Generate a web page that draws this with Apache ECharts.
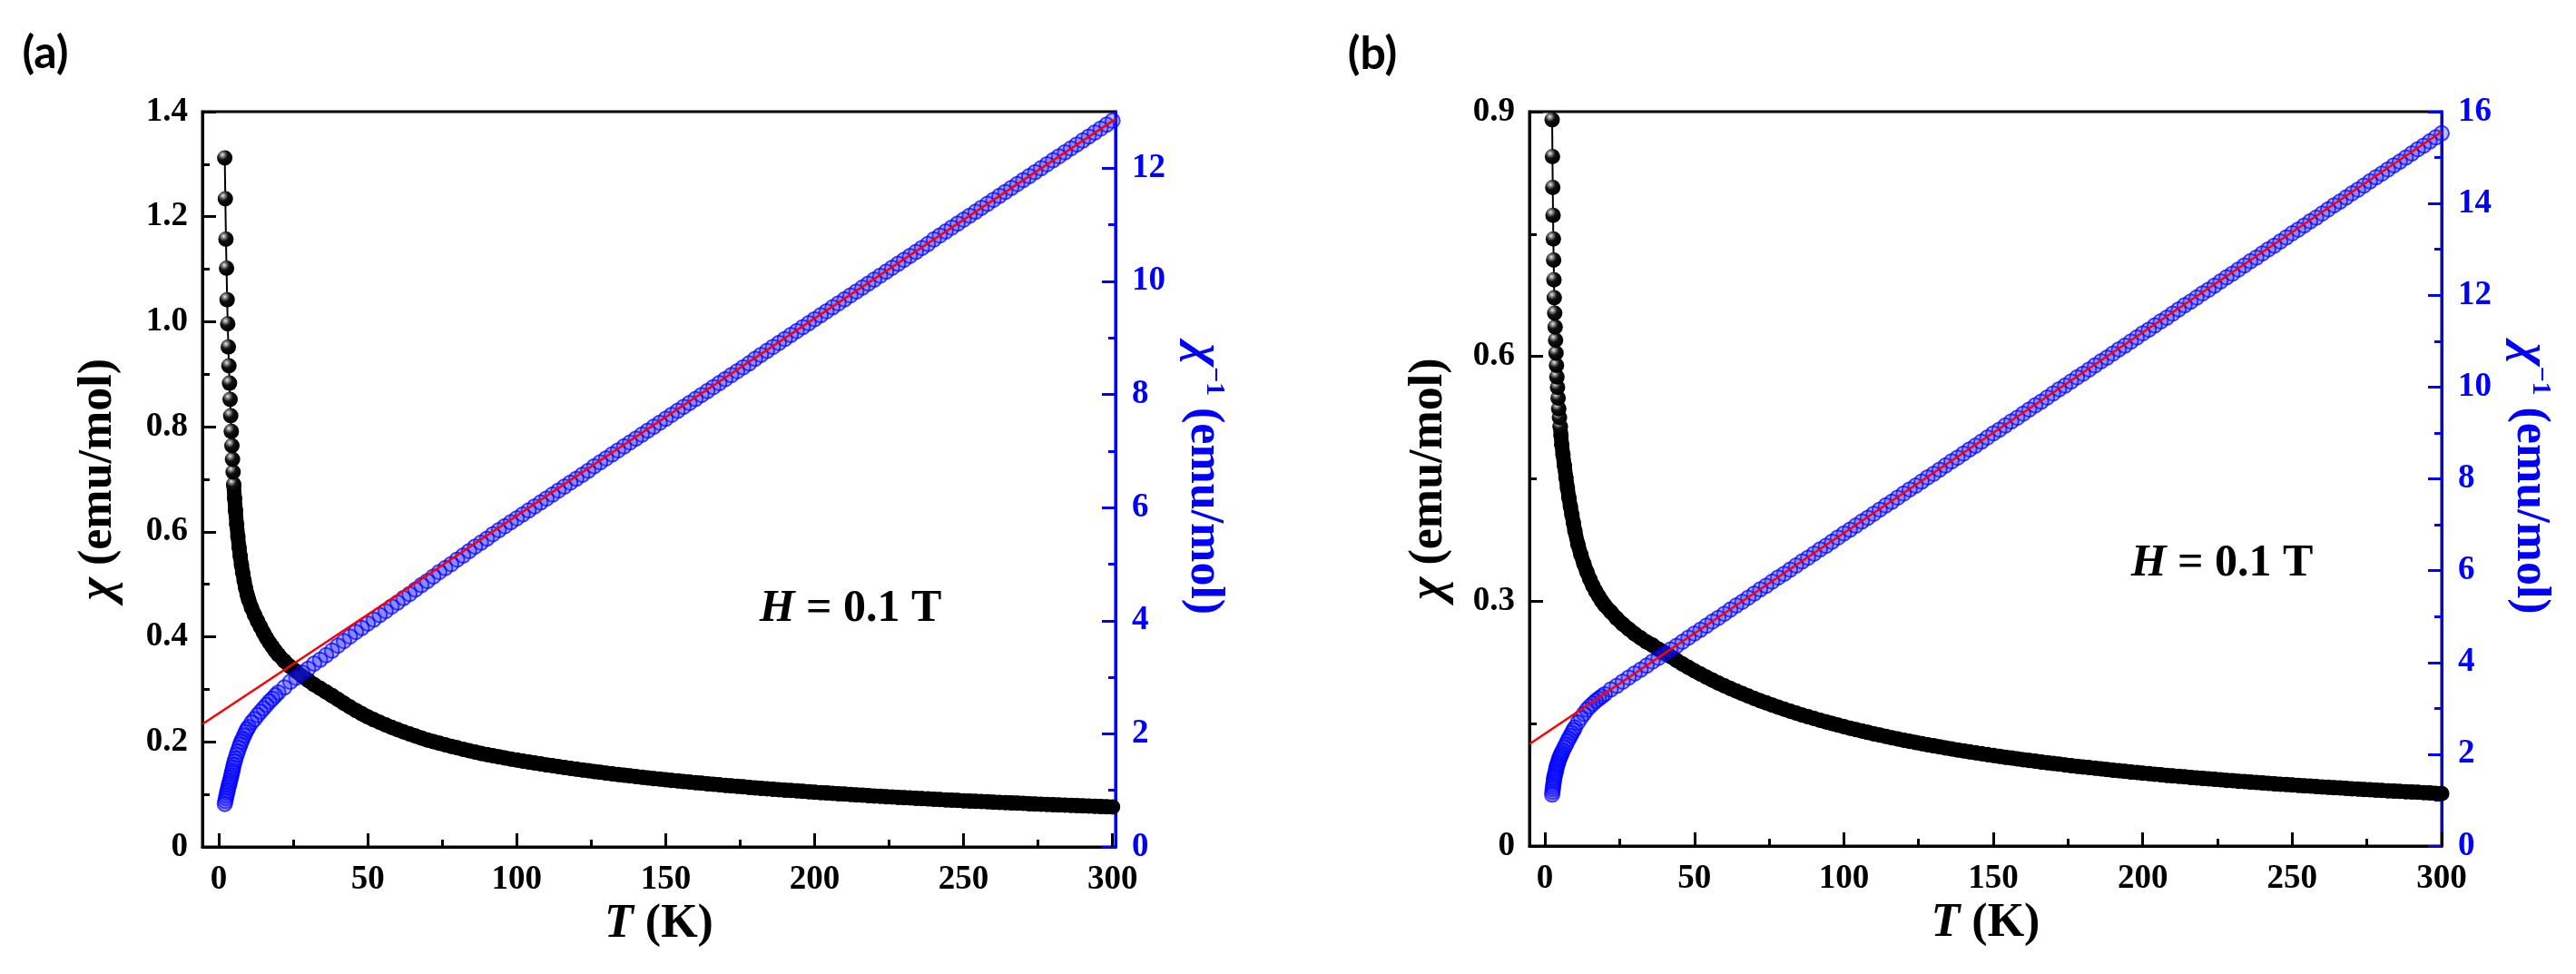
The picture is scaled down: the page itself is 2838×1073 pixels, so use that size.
<!DOCTYPE html>
<html>
<head>
<meta charset="utf-8">
<script src="https://cdn.jsdelivr.net/npm/echarts@6/dist/echarts.min.js"></script>
<style>
html, body { margin: 0; padding: 0; background: #fff; }
#main { width: 2838px; height: 1073px; }
</style>
</head>
<body>
<div id="main"></div>
<script>
// temperature points from 40 K up, same grid in both panels
var tempsHigh = [40,42,44,46,48,50,52,54,56,58,
    60,62,64,66,68,70,72,74,76,78,
    80,82,84,86,88,90,92,94,96,98,
    100,102,104,106,108,110,112,114,116,118,
    120,122,124,126,128,130,132,134,136,138,
    140,142,144,146,148,150,152,154,156,158,
    160,162,164,166,168,170,172,174,176,178,
    180,182,184,186,188,190,192,194,196,198,
    200,202,204,206,208,210,212,214,216,218,
    220,222,224,226,228,230,232,234,236,238,
    240,242,244,246,248,250,252,254,256,258,
    260,262,264,266,268,270,272,274,276,278,
    280,282,284,286,288,290,292,294,296,298,
    300];

// panel (a)
var tempsA = [2.0,2.2,2.4,2.6,2.8,3.0,3.2,3.4,3.6,3.8,
    4.0,4.2,4.4,4.6,4.8,5.0,5.3,5.6,6.0,6.4,
    6.8,7.2,7.6,8.0,8.5,9.0,9.5,10,11,12,
    13,14,15,16,17,18,19,20,22,24,
    26,28,30,32,34,36,38].concat(tempsHigh);
var chiA = [1.312,1.234,1.157,1.102,1.042,0.996,0.952,0.916,0.883,0.852,
    0.821,0.791,0.764,0.738,0.714,0.690,0.664,0.641,0.614,0.591,
    0.571,0.553,0.537,0.523,0.507,0.493,0.481,0.471,0.455,0.442,
    0.430,0.419,0.408,0.398,0.389,0.381,0.373,0.366,0.354,0.343,
    0.334,0.325,0.317,0.309,0.302,0.295,0.288,
    0.2809,0.2735,0.2665,0.2599,0.2535,0.2475,0.2422,0.2372,0.2323,0.2277,
    0.2232,0.2190,0.2150,0.2111,0.2073,0.2037,0.2005,0.1974,0.1944,0.1915,
    0.1887,0.1859,0.1832,0.1805,0.1779,0.1757,0.1736,0.1714,0.1694,0.1674,
    0.1654,0.1635,0.1616,0.1598,0.1580,0.1562,0.1545,0.1528,0.1512,0.1496,
    0.1480,0.1465,0.1450,0.1435,0.1420,0.1406,0.1392,0.1379,0.1365,0.1352,
    0.1339,0.1327,0.1314,0.1302,0.1290,0.1279,0.1267,0.1256,0.1245,0.1234,
    0.1223,0.1213,0.1202,0.1192,0.1182,0.1172,0.1163,0.1153,0.1144,0.1134,
    0.1125,0.1116,0.1108,0.1099,0.1091,0.1082,0.1074,0.1066,0.1058,0.1050,
    0.1042,0.1034,0.1027,0.1019,0.1012,0.1005,0.0998,0.0991,0.0984,0.0977,
    0.0970,0.0964,0.0957,0.0951,0.0944,0.0938,0.0932,0.0926,0.0920,0.0914,
    0.0908,0.0902,0.0896,0.0891,0.0885,0.0879,0.0874,0.0869,0.0863,0.0858,
    0.0853,0.0848,0.0843,0.0838,0.0833,0.0828,0.0823,0.0818,0.0813,0.0809,
    0.0804,0.0800,0.0795,0.0791,0.0786,0.0782,0.0777,0.0773,0.0769,0.0765,
    0.0761];
var chiInvA = [0.76,0.81,0.86,0.91,0.96,1.00,1.05,1.09,1.13,1.17,
    1.22,1.26,1.31,1.35,1.40,1.45,1.51,1.56,1.63,1.69,
    1.75,1.81,1.86,1.91,1.97,2.03,2.08,2.12,2.20,2.26,
    2.33,2.39,2.45,2.51,2.57,2.62,2.68,2.73,2.82,2.92,
    2.99,3.08,3.15,3.24,3.31,3.39,3.47,
    3.56,3.64,3.72,3.80,3.87,3.95,4.02,4.10,4.17,4.25,
    4.32,4.40,4.47,4.55,4.63,4.70,4.78,4.86,4.93,5.00,
    5.08,5.15,5.23,5.31,5.38,5.45,5.53,5.60,5.67,5.74,
    5.81,5.88,5.95,6.02,6.09,6.16,6.23,6.30,6.37,6.44,
    6.51,6.58,6.65,6.73,6.80,6.87,6.94,7.01,7.08,7.15,
    7.22,7.29,7.36,7.43,7.50,7.57,7.64,7.71,7.78,7.85,
    7.92,7.99,8.06,8.13,8.20,8.27,8.34,8.41,8.48,8.55,
    8.63,8.70,8.77,8.84,8.91,8.98,9.05,9.12,9.19,9.26,
    9.33,9.40,9.47,9.54,9.61,9.68,9.75,9.82,9.89,9.96,
    10.03,10.10,10.17,10.24,10.31,10.38,10.45,10.52,10.59,10.66,
    10.74,10.81,10.88,10.95,11.02,11.09,11.16,11.23,11.30,11.37,
    11.44,11.51,11.58,11.65,11.72,11.79,11.86,11.93,12.00,12.07,
    12.14,12.21,12.28,12.35,12.42,12.49,12.56,12.63,12.70,12.77,
    12.84];
// Curie-Weiss fit, end points [T, 1/chi]
var fitA = [[-5.5, 2.17], [301, 12.87]];

// panel (b)
var tempsB = [2.4,2.5,2.6,2.7,2.8,2.9,3.0,3.1,3.25,3.4,
    3.55,3.7,3.85,4.0,4.2,4.4,4.6,4.85,5.1,5.35,
    5.6,6.0,6.5,7.0,7.5,8.0,8.5,9.0,9.5,10,
    11,12,13,14,15,16,17,18,19,20,
    22,24,26,28,30,32,34,36,38].concat(tempsHigh);
var chiB = [0.890,0.845,0.807,0.773,0.744,0.718,0.694,0.672,0.653,0.636,
    0.620,0.604,0.589,0.575,0.562,0.549,0.536,0.525,0.514,0.503,
    0.492,0.480,0.466,0.452,0.439,0.427,0.416,0.406,0.396,0.386,
    0.370,0.357,0.346,0.336,0.327,0.319,0.312,0.306,0.300,0.295,
    0.287,0.279,0.272,0.266,0.260,0.255,0.250,0.246,0.241,
    0.2370,0.2322,0.2276,0.2231,0.2189,0.2148,0.2108,0.2070,0.2033,0.1998,
    0.1964,0.1931,0.1899,0.1868,0.1838,0.1809,0.1781,0.1754,0.1727,0.1702,
    0.1677,0.1653,0.1629,0.1606,0.1584,0.1563,0.1542,0.1521,0.1501,0.1482,
    0.1463,0.1444,0.1427,0.1409,0.1392,0.1375,0.1359,0.1343,0.1327,0.1312,
    0.1297,0.1283,0.1269,0.1255,0.1241,0.1228,0.1215,0.1202,0.1190,0.1177,
    0.1166,0.1154,0.1142,0.1131,0.1120,0.1109,0.1099,0.1088,0.1078,0.1068,
    0.1058,0.1048,0.1039,0.1029,0.1020,0.1011,0.1003,0.0994,0.0985,0.0977,
    0.0969,0.0961,0.0953,0.0945,0.0937,0.0929,0.0922,0.0915,0.0907,0.0900,
    0.0893,0.0886,0.0880,0.0873,0.0866,0.0860,0.0853,0.0847,0.0841,0.0835,
    0.0829,0.0823,0.0817,0.0811,0.0805,0.0800,0.0794,0.0789,0.0783,0.0778,
    0.0773,0.0768,0.0763,0.0757,0.0753,0.0748,0.0743,0.0738,0.0733,0.0729,
    0.0724,0.0719,0.0715,0.0711,0.0706,0.0702,0.0698,0.0693,0.0689,0.0685,
    0.0681,0.0677,0.0673,0.0669,0.0665,0.0661,0.0658,0.0654,0.0650,0.0646,
    0.0643];
var chiInvB = [1.12,1.18,1.24,1.29,1.34,1.39,1.44,1.49,1.53,1.57,
    1.61,1.65,1.70,1.74,1.78,1.82,1.87,1.91,1.95,1.99,
    2.03,2.08,2.15,2.21,2.28,2.34,2.40,2.46,2.52,2.58,
    2.69,2.79,2.88,2.97,3.04,3.10,3.16,3.21,3.26,3.31,
    3.41,3.49,3.58,3.67,3.76,3.84,3.93,4.02,4.10,
    4.19,4.28,4.36,4.45,4.54,4.63,4.71,4.80,4.89,4.97,
    5.06,5.15,5.24,5.32,5.41,5.50,5.59,5.67,5.76,5.85,
    5.93,6.02,6.11,6.20,6.28,6.37,6.46,6.54,6.63,6.72,
    6.81,6.89,6.98,7.07,7.15,7.24,7.33,7.42,7.50,7.59,
    7.68,7.77,7.85,7.94,8.03,8.11,8.20,8.29,8.38,8.46,
    8.55,8.64,8.72,8.81,8.90,8.99,9.07,9.16,9.25,9.33,
    9.42,9.51,9.60,9.68,9.77,9.86,9.95,10.03,10.12,10.21,
    10.29,10.38,10.47,10.56,10.64,10.73,10.82,10.90,10.99,11.08,
    11.17,11.25,11.34,11.43,11.51,11.60,11.69,11.78,11.86,11.95,
    12.04,12.12,12.21,12.30,12.39,12.47,12.56,12.65,12.74,12.82,
    12.91,13.00,13.08,13.17,13.26,13.35,13.43,13.52,13.61,13.69,
    13.78,13.87,13.96,14.04,14.13,14.22,14.30,14.39,14.48,14.57,
    14.65,14.74,14.83,14.91,15.00,15.09,15.18,15.26,15.35,15.44,
    15.53];
var fitB = [[-5.2, 2.22], [300, 15.56]];

// ticks
var tTicks = [0, 50, 100, 150, 200, 250, 300];
var tMinor = [25, 75, 125, 175, 225, 275];
var chiTicksA = [0, 0.2, 0.4, 0.6, 0.8, 1.0, 1.2, 1.4];
var chiMinorA = [0.1, 0.3, 0.5, 0.7, 0.9, 1.1, 1.3];
var invTicksA = [0, 2, 4, 6, 8, 10, 12];
var invMinorA = [1, 3, 5, 7, 9, 11];
var chiTicksB = [0, 0.3, 0.6, 0.9];
var chiMinorB = [0.15, 0.45, 0.75];
var invTicksB = [0, 2, 4, 6, 8, 10, 12, 14, 16];
var invMinorB = [1, 3, 5, 7, 9, 11, 13, 15];

var serif = "'Liberation Serif', 'Times New Roman', serif";
var BLUE = '#0000ff';

// shaded ball for the well separated low-T points
var ball = new echarts.graphic.RadialGradient(0.35, 0.3, 0.65, [
    { offset: 0, color: '#f0f0f0' },
    { offset: 0.2, color: '#8a8a8a' },
    { offset: 0.5, color: '#111' },
    { offset: 1, color: '#000' }
]);

function pts(t, v, from, to) {
    var out = [];
    var n = Math.min(t.length, v.length);
    for (var i = 0; i < n; i++) {
        if (t[i] >= from && t[i] <= to) out.push([t[i], v[i]]);
    }
    // draw from high T to low T so the low-T points sit on top
    return out.reverse();
}

function lab(color, size) {
    return { fontFamily: serif, fontWeight: 'bold', fontSize: size, color: color };
}

function chiFmt(v) {
    return v === 0 ? '0' : v.toFixed(1);
}

function mainX(grid, min, max) {
    return {
        type: 'value', gridIndex: grid, min: min, max: max, position: 'bottom',
        axisLine: { show: true, onZero: false, lineStyle: { color: '#000', width: 3 } },
        axisTick: { show: true, inside: true, length: 15, customValues: tTicks, lineStyle: { color: '#000', width: 3 } },
        axisLabel: Object.assign({ show: true, margin: 18, customValues: tTicks }, lab('#000', 37)),
        splitLine: { show: false },
        name: '{i|T}{n| (K)}', nameLocation: 'middle', nameGap: 60,
        nameTextStyle: {
            fontFamily: serif, fontWeight: 'bold', fontSize: 52, color: '#000',
            rich: {
                i: { fontFamily: serif, fontWeight: 'bold', fontStyle: 'italic', fontSize: 52, color: '#000' },
                n: { fontFamily: serif, fontWeight: 'bold', fontSize: 52, color: '#000' }
            }
        }
    };
}

function minorX(grid, min, max) {
    return {
        type: 'value', gridIndex: grid, min: min, max: max, position: 'bottom',
        axisLine: { show: false, onZero: false },
        axisTick: { show: true, inside: true, length: 8, customValues: tMinor, lineStyle: { color: '#000', width: 3 } },
        axisLabel: { show: false },
        splitLine: { show: false }
    };
}

function leftY(grid, max, ticks, nameGap) {
    return {
        type: 'value', gridIndex: grid, min: 0, max: max, position: 'left',
        axisLine: { show: true, onZero: false, lineStyle: { color: '#000', width: 3 } },
        axisTick: { show: true, inside: true, length: 15, customValues: ticks, lineStyle: { color: '#000', width: 3 } },
        axisLabel: Object.assign({ show: true, margin: 16, customValues: ticks, formatter: chiFmt }, lab('#000', 37)),
        splitLine: { show: false },
        name: '{c|χ}{n| (emu/mol)}', nameLocation: 'middle', nameGap: nameGap,
        nameTextStyle: {
            fontFamily: serif, fontWeight: 'bold', fontSize: 52, color: '#000',
            rich: {
                c: { fontFamily: serif, fontWeight: 'bold', fontStyle: 'italic', fontSize: 54, color: '#000' },
                n: { fontFamily: serif, fontWeight: 'bold', fontSize: 52, color: '#000' }
            }
        }
    };
}

function rightY(grid, max, ticks) {
    return {
        type: 'value', gridIndex: grid, min: 0, max: max, position: 'right',
        axisLine: { show: true, onZero: false, lineStyle: { color: BLUE, width: 3 } },
        axisTick: { show: true, inside: true, length: 15, customValues: ticks, lineStyle: { color: BLUE, width: 3 } },
        axisLabel: Object.assign({ show: true, margin: 18, customValues: ticks }, lab(BLUE, 37)),
        splitLine: { show: false },
        name: '{c|χ}{s|−1}{n| (emu/mol)}', nameLocation: 'middle', nameGap: 70, nameRotate: -90,
        nameTextStyle: {
            fontFamily: serif, fontWeight: 'bold', fontSize: 52, color: BLUE,
            rich: {
                c: { fontFamily: serif, fontWeight: 'bold', fontStyle: 'italic', fontSize: 54, color: BLUE },
                s: { fontFamily: serif, fontWeight: 'bold', fontSize: 30, color: BLUE, verticalAlign: 'top' },
                n: { fontFamily: serif, fontWeight: 'bold', fontSize: 52, color: BLUE }
            }
        }
    };
}

function minorY(grid, max, ticks, pos, color) {
    return {
        type: 'value', gridIndex: grid, min: 0, max: max, position: pos,
        axisLine: { show: false, onZero: false },
        axisTick: { show: true, inside: true, length: 8, customValues: ticks, lineStyle: { color: color, width: 3 } },
        axisLabel: { show: false },
        splitLine: { show: false }
    };
}

// sparse low-T part: shaded balls joined by a thin line
function blackSparse(xi, yi, data) {
    return {
        type: 'line', xAxisIndex: xi, yAxisIndex: yi, data: data,
        symbol: 'circle', symbolSize: 17, showAllSymbol: true,
        itemStyle: { color: ball, borderWidth: 0 },
        lineStyle: { color: '#000', width: 2 },
        z: 3, animation: false, silent: true
    };
}

// dense part: the balls merge into one solid band
function blackDense(xi, yi, data) {
    return {
        type: 'line', xAxisIndex: xi, yAxisIndex: yi, data: data,
        symbol: 'circle', symbolSize: 17, showAllSymbol: true,
        itemStyle: { color: '#000', borderWidth: 0 },
        lineStyle: { color: '#000', width: 16, cap: 'round', join: 'round' },
        z: 2, animation: false, silent: true
    };
}

function blueSeries(xi, yi, data) {
    return {
        type: 'scatter', xAxisIndex: xi, yAxisIndex: yi, data: data,
        symbol: 'circle', symbolSize: 16,
        itemStyle: { color: 'rgba(40,40,255,0.40)', borderColor: 'rgba(0,0,255,0.9)', borderWidth: 2 },
        z: 4, animation: false, silent: true
    };
}

function fitSeries(xi, yi, data) {
    return {
        type: 'line', xAxisIndex: xi, yAxisIndex: yi, data: data,
        symbol: 'none', lineStyle: { color: '#ff0000', width: 2.5 },
        z: 5, animation: false, silent: true
    };
}

var gridA = { left: 223, top: 123, width: 1006, height: 810 };
var gridB = { left: 1685, top: 123, width: 1005, height: 809 };

function mkGrid(g, frame) {
    return {
        left: g.left, top: g.top, width: g.width, height: g.height,
        containLabel: false, outerBoundsMode: 'none',
        show: frame, borderColor: '#000', borderWidth: frame ? 3 : 0,
        backgroundColor: 'transparent'
    };
}

var hText = {
    i: { fontFamily: serif, fontWeight: 'bold', fontStyle: 'italic', fontSize: 50, fill: '#000' },
    n: { fontFamily: serif, fontWeight: 'bold', fontSize: 50, fill: '#000' }
};

var chart = echarts.init(document.getElementById('main'), null, { renderer: 'canvas' });

var option = {
    backgroundColor: '#fff',
    animation: false,
    grid: [mkGrid(gridA, true), mkGrid(gridA, false), mkGrid(gridB, true), mkGrid(gridB, false)],
    xAxis: [
        mainX(0, -5.5, 301),
        minorX(1, -5.5, 301),
        mainX(2, -5.2, 300),
        minorX(3, -5.2, 300)
    ],
    yAxis: [
        leftY(0, 1.4, chiTicksA, 87),
        rightY(0, 13, invTicksA),
        minorY(1, 1.4, chiMinorA, 'left', '#000'),
        minorY(1, 13, invMinorA, 'right', BLUE),
        leftY(2, 0.9, chiTicksB, 83),
        rightY(2, 16, invTicksB),
        minorY(3, 0.9, chiMinorB, 'left', '#000'),
        minorY(3, 16, invMinorB, 'right', BLUE)
    ],
    series: [
        blackDense(0, 0, pts(tempsA, chiA, 5, 400)),
        blackSparse(0, 0, pts(tempsA, chiA, 0, 5)),
        blueSeries(0, 1, pts(tempsA, chiInvA, 0, 400)),
        fitSeries(0, 1, fitA),
        blackDense(2, 4, pts(tempsB, chiB, 5.1, 400)),
        blackSparse(2, 4, pts(tempsB, chiB, 0, 5.1)),
        blueSeries(2, 5, pts(tempsB, chiInvB, 0, 400)),
        fitSeries(2, 5, fitB)
    ],
    graphic: [
        { type: 'text', x: 50, y: 59, style: { text: '(a)', fontFamily: 'Lato', fontWeight: 'bold', fontSize: 50, fill: '#000', align: 'center', verticalAlign: 'middle' } },
        { type: 'text', x: 1512, y: 60, style: { text: '(b)', fontFamily: 'Lato', fontWeight: 'bold', fontSize: 50, fill: '#000', align: 'center', verticalAlign: 'middle' } },
        { type: 'text', x: 937, y: 671, style: { text: '{i|H}{n| = 0.1 T}', rich: hText, fontFamily: serif, fontWeight: 'bold', fontSize: 50, fill: '#000', align: 'center', verticalAlign: 'middle' } },
        { type: 'text', x: 2448, y: 621, style: { text: '{i|H}{n| = 0.1 T}', rich: hText, fontFamily: serif, fontWeight: 'bold', fontSize: 50, fill: '#000', align: 'center', verticalAlign: 'middle' } }
    ]
};

chart.setOption(option);
</script>
</body>
</html>
